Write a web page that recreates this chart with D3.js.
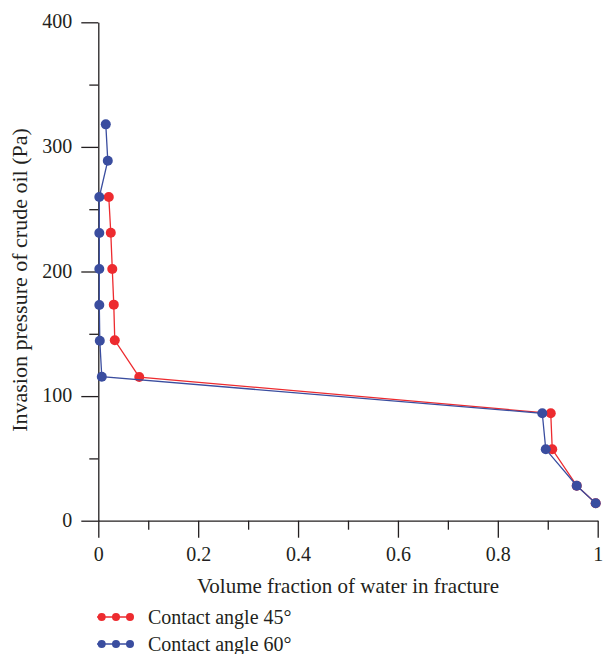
<!DOCTYPE html>
<html>
<head>
<meta charset="utf-8">
<script src="https://cdn.jsdelivr.net/npm/d3@7"></script>
<style>
  html, body { margin: 0; padding: 0; background: #fff; }
  svg { display: block; }
  text { font-family: "Liberation Serif", "Times New Roman", serif; fill: #231f20; }
</style>
</head>
<body>
<script>
// values
const water45 = [0.021, 0.025, 0.028, 0.031, 0.033, 0.082, 0.906, 0.909, 0.958, 0.996];
const pressure45 = [259.8, 231.1, 202.0, 173.4, 144.8, 115.3, 86.2, 57.3, 28.1, 14.0];
const water60 = [0.015, 0.019, 0.002, 0.002, 0.002, 0.002, 0.003, 0.007, 0.889, 0.896, 0.958, 0.996];
const pressure60 = [318.1, 288.9, 259.8, 230.9, 202.0, 173.1, 144.4, 115.6, 86.2, 57.3, 28.1, 14.0];

const xMajor = [0, 0.2, 0.4, 0.6, 0.8, 1];
const xMinor = [0.1, 0.3, 0.5, 0.7, 0.9];
const yMajor = [0, 100, 200, 300, 400];
const yMinor = [50, 150, 250, 350];

const seriesNames = ["Contact angle 45\u00b0", "Contact angle 60\u00b0"];
const seriesColors = ["#ed2b2f", "#3a4d9f"];

const W = 603, H = 654;
const ink = "#231f20";
const fontSize = 20;

const svg = d3.select("body").append("svg").attr("width", W).attr("height", H);

const x = d3.scaleLinear().domain([0, 1]).range([98.3, 597.7]);
const y = d3.scaleLinear().domain([0, 400]).range([520.7, 22.3]);

// axes
function styleAxis(g) {
  g.selectAll("path.domain").attr("stroke", ink).attr("stroke-width", 1.3);
  g.selectAll(".tick line").attr("stroke", ink).attr("stroke-width", 1.3);
  g.selectAll(".tick text").style("font-size", fontSize + "px").attr("fill", ink);
}

const xAxisG = svg.append("g").attr("transform", `translate(0,${y(0)})`);
xAxisG.call(d3.axisBottom(x).tickValues(xMajor).tickSize(17).tickSizeOuter(0).tickPadding(9)
  .tickFormat(d => d3.format("")(d)));
xAxisG.append("g").call(d3.axisBottom(x).tickValues(xMinor).tickSize(9).tickFormat(""))
  .select("path.domain").remove();
styleAxis(xAxisG);

const yAxisG = svg.append("g").attr("transform", `translate(${x(0)},0)`);
yAxisG.call(d3.axisLeft(y).tickValues(yMajor).tickSize(17).tickSizeOuter(0).tickPadding(9));
yAxisG.append("g").call(d3.axisLeft(y).tickValues(yMinor).tickSize(9).tickFormat(""))
  .select("path.domain").remove();
styleAxis(yAxisG);
yAxisG.selectAll(".tick text").attr("dy", "0.28em");

// axis titles
svg.append("text")
  .attr("x", (x(0) + x(1)) / 2).attr("y", 593)
  .attr("text-anchor", "middle").style("font-size", "21px")
  .text("Volume fraction of water in fracture");

svg.append("text")
  .attr("transform", `translate(27,280) rotate(-90)`)
  .attr("text-anchor", "middle").style("font-size", "22px")
  .text("Invasion pressure of crude oil (Pa)");

// series
const series = [
  { name: seriesNames[0], color: seriesColors[0], pts: water45.map((w, i) => [w, pressure45[i]]) },
  { name: seriesNames[1], color: seriesColors[1], pts: water60.map((w, i) => [w, pressure60[i]]) }
];

const line = d3.line().x(d => x(d[0])).y(d => y(d[1]));

series.forEach(s => {
  const g = svg.append("g");
  g.append("path").attr("d", line(s.pts)).attr("fill", "none")
    .attr("stroke", s.color).attr("stroke-width", 1.3);
  g.selectAll("circle").data(s.pts).join("circle")
    .attr("cx", d => x(d[0])).attr("cy", d => y(d[1])).attr("r", 5)
    .attr("fill", s.color);
});

// legend
const legend = svg.append("g");
series.forEach((s, i) => {
  const ly = 617 + i * 27;
  const lg = legend.append("g");
  lg.append("line").attr("x1", 97).attr("x2", 133).attr("y1", ly).attr("y2", ly)
    .attr("stroke", s.color).attr("stroke-width", 1.3);
  lg.selectAll("circle").data([101.7, 116, 130]).join("circle")
    .attr("cx", d => d).attr("cy", ly).attr("r", 4).attr("fill", s.color);
  lg.append("text").attr("x", 148).attr("y", ly + 7)
    .style("font-size", fontSize + "px").text(s.name);
});
</script>
</body>
</html>
